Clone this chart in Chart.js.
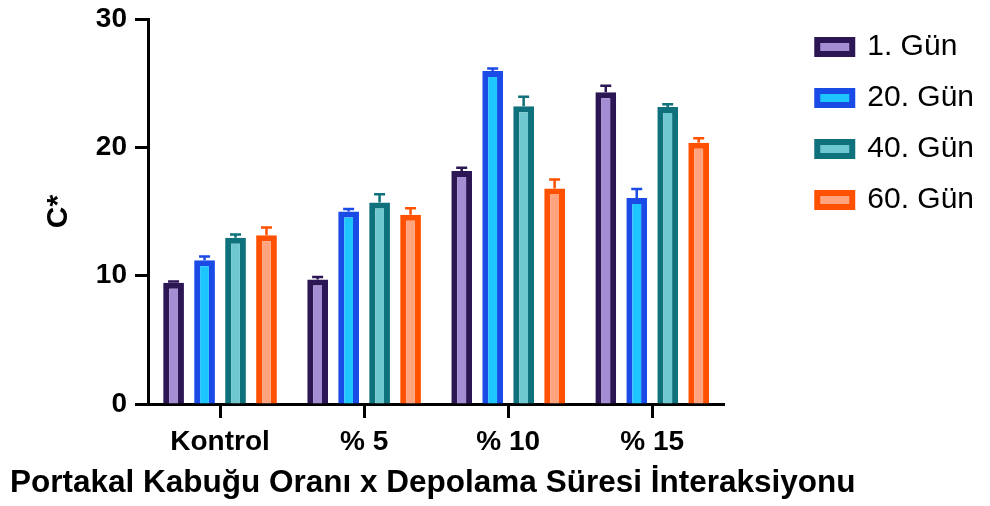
<!DOCTYPE html>
<html>
<head>
<meta charset="utf-8">
<script src="https://cdn.jsdelivr.net/npm/chart.js@4.4.1/dist/chart.umd.min.js"></script>
<style>
  html, body { margin: 0; padding: 0; background: #fff; }
  #wrap { width: 990px; height: 506px; position: relative; }
</style>
</head>
<body>
<div id="wrap"><canvas id="chart"></canvas></div>
<script>
/* ── Data ── */
const categories = ['Kontrol', '% 5', '% 10', '% 15'];
const seriesNames = ['1. Gün', '20. Gün', '40. Gün', '60. Gün'];

const day1  = [9.45, 9.7, 18.15, 24.3];
const day20 = [11.2, 15.0, 25.95, 16.05];
const day40 = [12.95, 15.7, 23.2, 23.15];
const day60 = [13.15, 14.75, 16.8, 20.35];

const err1  = [0.1, 0.2, 0.25, 0.5];
const err20 = [0.3, 0.2, 0.2, 0.7];
const err40 = [0.25, 0.65, 0.75, 0.2];
const err60 = [0.6, 0.5, 0.7, 0.35];

const yTicks = [0, 10, 20, 30];

const BORDERS = ['#2C1654', '#1A4BE6', '#0F717B', '#FF5100'];
const FILLS   = ['#A68CD3', '#1EC6FF', '#6FC7CF', '#FFA47E'];
const FONT = 'Liberation Sans, Arial, Helvetica, sans-serif';

const values = [day1, day20, day40, day60];
const errors = [err1, err20, err40, err60];

/* ── Error bars (upper half only) ── */
const errorBars = {
  id: 'errorBars',
  afterDatasetsDraw(chart) {
    const { ctx, scales: { y } } = chart;
    chart.data.datasets.forEach((ds, di) => {
      const meta = chart.getDatasetMeta(di);
      meta.data.forEach((bar, i) => {
        const top = y.getPixelForValue(ds.data[i] + ds.errors[i]);
        ctx.save();
        ctx.strokeStyle = ds.borderColor;
        ctx.lineWidth = 2.5;
        ctx.beginPath();
        ctx.moveTo(bar.x, bar.y);
        ctx.lineTo(bar.x, top);
        ctx.moveTo(bar.x - 5.5, top);
        ctx.lineTo(bar.x + 5.5, top);
        ctx.stroke();
        ctx.restore();
      });
    });
  }
};

const datasets = seriesNames.map((name, k) => ({
  label: name,
  data: values[k],
  errors: errors[k],
  backgroundColor: FILLS[k],
  borderColor: BORDERS[k],
  borderWidth: 6,
  borderSkipped: 'start',
  categoryPercentage: 0.86,
  barPercentage: 0.67
}));

new Chart(document.getElementById('chart'), {
  type: 'bar',
  data: { labels: categories, datasets },
  options: {
    responsive: true,
    maintainAspectRatio: false,
    animation: false,
    layout: { padding: { top: 11, right: 6, bottom: 0, left: 10 } },
    plugins: {
      tooltip: { enabled: false },
      legend: {
        position: 'right',
        align: 'start',
        maxWidth: 220,
        labels: {
          color: '#000',
          font: { family: FONT, size: 30 },
          boxWidth: 35,
          boxHeight: 14,
          padding: 21
        }
      },
      title: {
        display: true,
        position: 'bottom',
        align: 'start',
        text: 'Portakal Kabuğu Oranı x Depolama Süresi İnteraksiyonu',
        color: '#000',
        font: { family: FONT, size: 31.5, weight: 'bold', lineHeight: 1 },
        padding: { top: 14, bottom: 7 }
      }
    },
    scales: {
      x: {
        z: 1,
        afterFit: s => { s.height = 49.5; },
        grid: { display: true, drawOnChartArea: false, offset: false, tickLength: 14, tickWidth: 3, tickColor: '#000' },
        border: { display: true, width: 3, color: '#000' },
        ticks: { color: '#000', font: { family: FONT, size: 28, weight: 'bold', lineHeight: 1 }, padding: 10, maxRotation: 0 }
      },
      y: {
        min: 0,
        max: 30,
        afterBuildTicks: s => { s.ticks = yTicks.map(v => ({ value: v })); },
        afterFit: s => { s.width = 138; s.paddingTop = 19; s.paddingBottom = 0; },
        grid: { display: true, drawOnChartArea: false, tickLength: 13, tickWidth: 3, tickColor: '#000' },
        border: { display: true, width: 3, color: '#000' },
        ticks: { color: '#000', font: { family: FONT, size: 28, weight: 'bold', lineHeight: 1 }, padding: 8 },
        title: {
          display: true,
          text: 'C*',
          color: '#000',
          font: { family: FONT, size: 30, weight: 'bold', lineHeight: 1 },
          padding: { top: 34, bottom: 0 }
        }
      },
      gap: {
        position: 'right',
        display: true,
        grid: { display: false },
        border: { display: false },
        ticks: { display: false },
        afterFit: s => { s.width = 72; }
      }
    }
  },
  plugins: [errorBars]
});
</script>
</body>
</html>
